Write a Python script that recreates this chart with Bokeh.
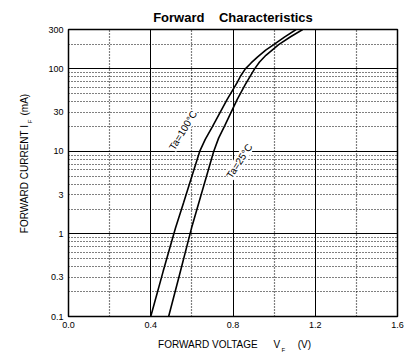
from bokeh.plotting import figure
from bokeh.models import FixedTicker, Grid, Label, LinearAxis, LogAxis
from bokeh.embed import file_html
from bokeh.resources import INLINE

# ---- data ----
v_100 = [0.40, 0.46, 0.52, 0.56, 0.60, 0.638, 0.665, 0.70, 0.771, 0.82, 0.837, 0.86,
         0.888, 0.92, 0.959, 0.998, 1.05, 1.107]
i_100 = [0.10, 0.35, 1.17, 2.4, 5.0, 10.0, 14.0, 20.0, 42.4, 68.0, 82.0, 100.0,
         118.0, 140.0, 169.0, 197.0, 243.0, 300.0]

v_25 = [0.487, 0.54, 0.598, 0.65, 0.706, 0.73, 0.76, 0.820, 0.86, 0.905, 0.929, 0.96,
        1.022, 1.08, 1.139]
i_25 = [0.10, 0.32, 1.17, 3.3, 10.0, 14.5, 20.5, 42.4, 65.0, 100.0, 121.0, 146.0,
        197.0, 245.0, 300.0]

x_ticks = [0.0, 0.4, 0.8, 1.2, 1.6]
x_tick_labels = ["0.0", "0.4", "0.8", "1.2", "1.6"]
x_major_grid = [0.4, 0.8, 1.2]
x_minor_grid = [0.2, 0.6, 1.0, 1.4]

y_ticks = [0.1, 0.3, 1, 3, 10, 30, 100, 300]
y_tick_labels = ["0.1", "0.3", "1", "3", "10", "30", "100", "300"]
y_major_grid = [1, 10, 100]
y_minor_grid = [0.2, 0.3, 0.4, 0.5, 0.6, 0.7, 0.8, 0.9,
                2, 3, 4, 5, 6, 7, 8, 9,
                20, 30, 40, 50, 60, 70, 80, 90, 200]

title_text = "Forward\u00a0\u00a0\u00a0\u00a0Characteristics"
x_label_parts = ["FORWARD VOLTAGE", "V", "(V)"]
x_label_sub = "F"
y_label_parts = ["FORWARD CURRENT", "I", "(mA)"]
y_label_sub = "F"
curve_labels = ["Ta=100°C", "Ta=25°C"]

FONT = "Liberation Sans"

p = figure(width=417, height=358, x_range=(0, 1.6), y_range=(0.1, 300),
           y_axis_type="log", output_backend="svg", toolbar_location=None,
           min_border_left=68, min_border_right=20, min_border_top=29,
           min_border_bottom=42, background_fill_color="white",
           border_fill_color="white", title=title_text)
p.title.align = "center"
p.title.text_font = FONT
p.title.text_font_size = "13px"
p.title.text_font_style = "bold"
p.title.text_color = "black"
p.title.offset = 9
p.title.standoff = 10
p.outline_line_color = "black"
p.outline_line_width = 1.5


def style_axis(ax, size="9px", standoff=5):
    ax.axis_line_color = None
    ax.major_tick_line_color = None
    ax.minor_tick_line_color = None
    ax.major_tick_out = 0
    ax.major_tick_in = 0
    ax.minor_tick_out = 0
    ax.minor_tick_in = 0
    ax.major_label_text_font = FONT
    ax.major_label_text_font_size = size
    ax.major_label_text_color = "black"
    ax.major_label_standoff = standoff


# main axes
style_axis(p.xaxis[0], standoff=5)
p.xaxis[0].ticker = FixedTicker(ticks=x_ticks)
p.xaxis[0].major_label_overrides = {t: l for t, l in zip(x_ticks, x_tick_labels)}
style_axis(p.yaxis[0], standoff=5)
p.yaxis[0].ticker = FixedTicker(ticks=y_ticks)
p.yaxis[0].major_label_overrides = {t: l for t, l in zip(y_ticks, y_tick_labels)}

# x axis title pieces (placed as labels of extra axes)
x_part_pos = [0.678, 1.013, 1.147]
ax2 = LinearAxis(ticker=FixedTicker(ticks=x_part_pos),
                 major_label_overrides={t: l for t, l in zip(x_part_pos, x_label_parts)})
style_axis(ax2, size="10px", standoff=8)
p.add_layout(ax2, "below")
ax3 = LinearAxis(ticker=FixedTicker(ticks=[1.045]),
                 major_label_overrides={1.045: x_label_sub})
style_axis(ax3, size="6px", standoff=-6)
p.add_layout(ax3, "below")

# y axis title pieces
ay2 = LogAxis(ticker=FixedTicker(ticks=[23.1]),
              major_label_overrides={23.1: y_label_sub},
              major_label_orientation="vertical")
style_axis(ay2, size="6px", standoff=12)
p.add_layout(ay2, "left")
y_part_pos = [4.29, 20.1, 36.9]
ay3 = LogAxis(ticker=FixedTicker(ticks=y_part_pos),
              major_label_overrides={t: l for t, l in zip(y_part_pos, y_label_parts)},
              major_label_orientation="vertical")
style_axis(ay3, size="10px", standoff=-6)
p.add_layout(ay3, "left")

# grids
p.xgrid[0].ticker = FixedTicker(ticks=x_major_grid)
p.xgrid[0].grid_line_color = "black"
p.xgrid[0].grid_line_width = 1
p.ygrid[0].ticker = FixedTicker(ticks=y_major_grid)
p.ygrid[0].grid_line_color = "black"
p.ygrid[0].grid_line_width = 1
p.add_layout(Grid(dimension=0, ticker=FixedTicker(ticks=x_minor_grid),
                  grid_line_color="black", grid_line_width=1.2, grid_line_dash="1 2"))
p.add_layout(Grid(dimension=1, ticker=FixedTicker(ticks=y_minor_grid),
                  grid_line_color="black", grid_line_width=1.2, grid_line_dash="1 2"))

# curves
p.line(v_100, i_100, line_color="black", line_width=1.6)
p.line(v_25, i_25, line_color="black", line_width=1.6)

# curve labels
p.add_layout(Label(x=0.557, y=18.0, text=curve_labels[0], angle=1.02,
                   text_align="center", text_baseline="middle",
                   text_font=FONT, text_font_size="10px", text_color="black",
                   background_fill_color="white"))
p.add_layout(Label(x=0.831, y=7.65, text=curve_labels[1], angle=1.0,
                   text_align="center", text_baseline="middle",
                   text_font=FONT, text_font_size="10px", text_color="black",
                   background_fill_color="white"))

open("out.html", "w").write(file_html(p, INLINE))
